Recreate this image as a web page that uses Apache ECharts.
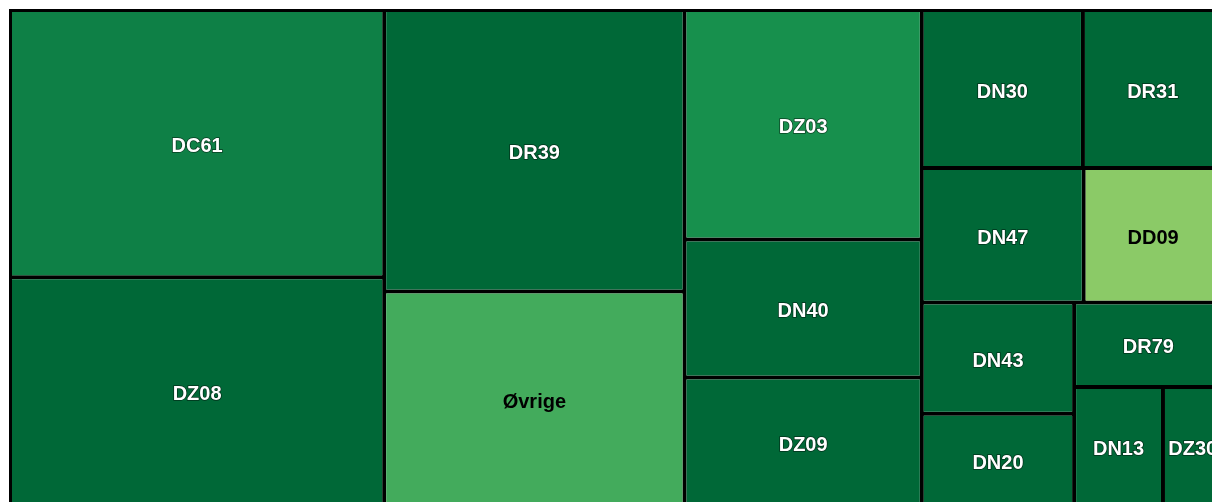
<!DOCTYPE html>
<html>
<head>
<meta charset="utf-8">
<script src="https://cdn.jsdelivr.net/npm/echarts@6/dist/echarts.min.js"></script>
<style>
  html, body { margin: 0; padding: 0; background: #fff; overflow: hidden; }
  #chart { width: 1212px; height: 502px; }
</style>
</head>
<body>
<div id="chart"></div>
<script>
var codes = ['DC61', 'DZ08', 'DR39', 'Øvrige', 'DZ03', 'DN40', 'DZ09', 'DN30', 'DR31', 'DN47', 'DD09', 'DN43', 'DN20', 'DR79', 'DN13', 'DZ30'];
var sizes = [997, 856, 843, 644, 543, 327, 305, 254, 220, 217, 186, 169, 141, 125, 106, 71];
// colour index (0 = lightest, 4 = darkest)
var shade = [3, 4, 4, 1, 2, 4, 4, 4, 4, 4, 0, 4, 4, 4, 4, 4];
var palette = ['#8bca67', '#43ab5c', '#17904d', '#0e8046', '#006837'];

(function() {
  var myChart = echarts.init(document.getElementById('chart'));

  var data = [];
  for (var i = 0; i < codes.length; i++) {
    data.push({
      name: codes[i],
      value: [sizes[i], shade[i]],
      label: shade[i] <= 1 ? { color: '#000', textBorderWidth: 0 } : {}
    });
  }

  var option = {
    animation: false,
    series: [{
      type: 'treemap',
      left: 9,
      top: 9,
      width: 1214.5,
      height: 498.5,
      roam: false,
      nodeClick: false,
      breadcrumb: { show: false },
      squareRatio: 1.08,
      visualDimension: 1,
      label: {
        show: true,
        position: 'inside',
        align: 'center',
        verticalAlign: 'middle',
        offset: [0, 3],
        overflow: 'none',
        fontFamily: 'Liberation Sans, Arial, sans-serif',
        fontWeight: 'bold',
        fontSize: 20,
        color: '#fff',
        textBorderColor: 'rgba(0,0,0,0.55)',
        textBorderWidth: 1.5
      },
      levels: [
        {
          color: palette,
          colorMappingBy: 'value',
          visualDimension: 1,
          visualMin: 0,
          visualMax: 4,
          itemStyle: {
            borderColor: '#000',
            borderWidth: 3,
            gapWidth: 4
          }
        },
        {
          itemStyle: {
            borderWidth: 0
          }
        }
      ],
      data: data
    }]
  };

  myChart.setOption(option);
  window.addEventListener('resize', function() {
    myChart.resize();
  });
})();
</script>
</body>
</html>
